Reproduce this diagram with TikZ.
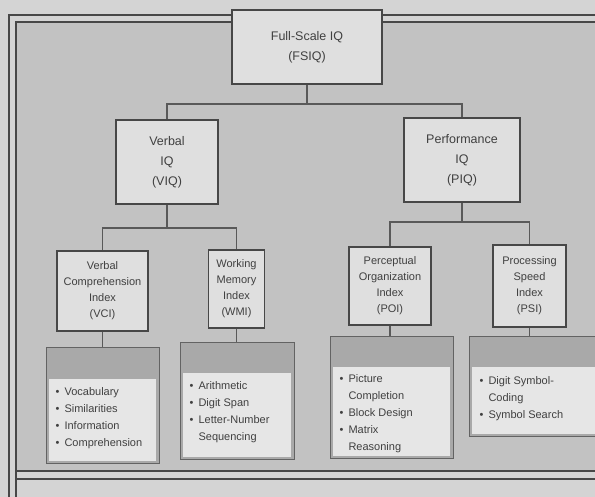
\documentclass[tikz,border=0pt]{standalone}
\usepackage{fontspec}
\setmainfont{Liberation Sans}
\usetikzlibrary{positioning}
\definecolor{margin}{HTML}{D4D4D4}
\definecolor{paper}{HTML}{C2C2C2}
\definecolor{boxfill}{HTML}{DFDFDF}
\definecolor{ink}{HTML}{474747}
\definecolor{headgray}{HTML}{A9A9A9}
\definecolor{listfill}{HTML}{E6E6E6}

\begin{document}
\begin{tikzpicture}[x=1pt,y=-1pt,
		iqbox/.style={draw=ink,line width=1.6pt,fill=boxfill,text=ink!90!black,align=center,inner sep=1pt,font=\fontsize{12.5}{20}\selectfont},
		indexbox/.style={draw=ink,line width=1.4pt,fill=boxfill,text=ink!90!black,align=center,inner sep=1pt,font=\fontsize{11}{16}\selectfont},
		listbox/.style={draw=ink!85,line width=1pt,fill=headgray,
			path picture={\fill[listfill] ([xshift=3pt,yshift=-31pt]path picture bounding box.north west) rectangle ([xshift=-3pt,yshift=3pt]path picture bounding box.south east);}},
		listtext/.style={align=left,inner sep=0pt,text=ink!90!black,font=\fontsize{11}{17}\selectfont},
		link/.style={draw=ink!90,line width=1.2pt}]
		\def\bul{\textbullet\hspace{5pt}}
		\def\ind{\hphantom{\textbullet\hspace{5pt}}}
		\useasboundingbox (0,0) rectangle (595,497);
		%Paper and frame
		\fill[margin] (0,0) rectangle (595,497);
		\fill[paper] (16,22) rectangle (600,471);
		\draw[ink,line width=2pt] (9,497) -- (9,15) -- (600,15);
		\draw[ink,line width=1.4pt] (16,497) -- (16,22) -- (600,22);
		\draw[ink,line width=1.4pt] (16,471) -- (600,471);
		\draw[ink,line width=2pt] (16,479) -- (600,479);
		%IQ boxes
		\node[iqbox,minimum width=150pt,minimum height=74pt] (fsiq) at (307,47) {Full-Scale IQ\\(FSIQ)};
		\node[iqbox,minimum width=102pt,minimum height=84pt] (viq) at (167,162) {Verbal\\IQ\\(VIQ)};
		\node[iqbox,minimum width=116pt,minimum height=84pt] (piq) at (462,160) {Performance\\IQ\\(PIQ)};
		%Index boxes
		\node[indexbox,minimum width=91pt,minimum height=80pt] (vci) at (102.5,291) {Verbal\\Comprehension\\Index\\(VCI)};
		\node[indexbox,minimum width=56pt,minimum height=78pt] (wmi) at (236.5,289) {Working\\Memory\\Index\\(WMI)};
		\node[indexbox,minimum width=82pt,minimum height=78pt] (poi) at (390,286) {Perceptual\\Organization\\Index\\(POI)};
		\node[indexbox,minimum width=73pt,minimum height=82pt] (psi) at (529.5,286) {Processing\\Speed\\Index\\(PSI)};
		%Subtest lists
		\node[listbox,minimum width=113pt,minimum height=116pt,anchor=north] (vcilist) at (102.5,347) {};
		\node[listbox,minimum width=114pt,minimum height=117pt,anchor=north] (wmilist) at (237,342) {};
		\node[listbox,minimum width=123pt,minimum height=122pt,anchor=north] (poilist) at (391.5,336) {};
		\node[listbox,minimum width=131pt,minimum height=100pt,anchor=north] (psilist) at (534.5,336) {};
		\node[listtext,anchor=north west] (vcitext) at ([xshift=10pt,yshift=-40pt]vcilist.north west) {\bul Vocabulary\\\bul Similarities\\\bul Information\\\bul Comprehension};
		\node[listtext,anchor=north west] (wmitext) at ([xshift=10pt,yshift=-39pt]wmilist.north west) {\bul Arithmetic\\\bul Digit Span\\\bul Letter-Number\\\ind Sequencing};
		\node[listtext,anchor=north west] (poitext) at ([xshift=10pt,yshift=-38pt]poilist.north west) {\bul Picture\\\ind Completion\\\bul Block Design\\\bul Matrix\\\ind Reasoning};
		\node[listtext,anchor=north west] (psitext) at ([xshift=11pt,yshift=-40pt]psilist.north west) {\bul Digit Symbol-\\\ind Coding\\\bul Symbol Search};
		%Connectors
		\coordinate (topbus) at (307,104);
		\coordinate (verbalbus) at (167,228);
		\coordinate (perfbus) at (462,222);
		\draw[link] (fsiq.south) -- (topbus);
		\draw[link] (viq.north) |- (topbus) -| (piq.north);
		\draw[link] (viq.south) -- (verbalbus);
		\draw[link] (vci.north) |- (verbalbus) -| (wmi.north);
		\draw[link] (piq.south) -- (perfbus);
		\draw[link] (poi.north) |- (perfbus) -| (psi.north);
		\draw[link] (vci.south) -- (vci.south |- vcilist.north);
		\draw[link] (wmi.south) -- (wmi.south |- wmilist.north);
		\draw[link] (poi.south) -- (poi.south |- poilist.north);
		\draw[link] (psi.south) -- (psi.south |- psilist.north);
\end{tikzpicture}
\end{document}
